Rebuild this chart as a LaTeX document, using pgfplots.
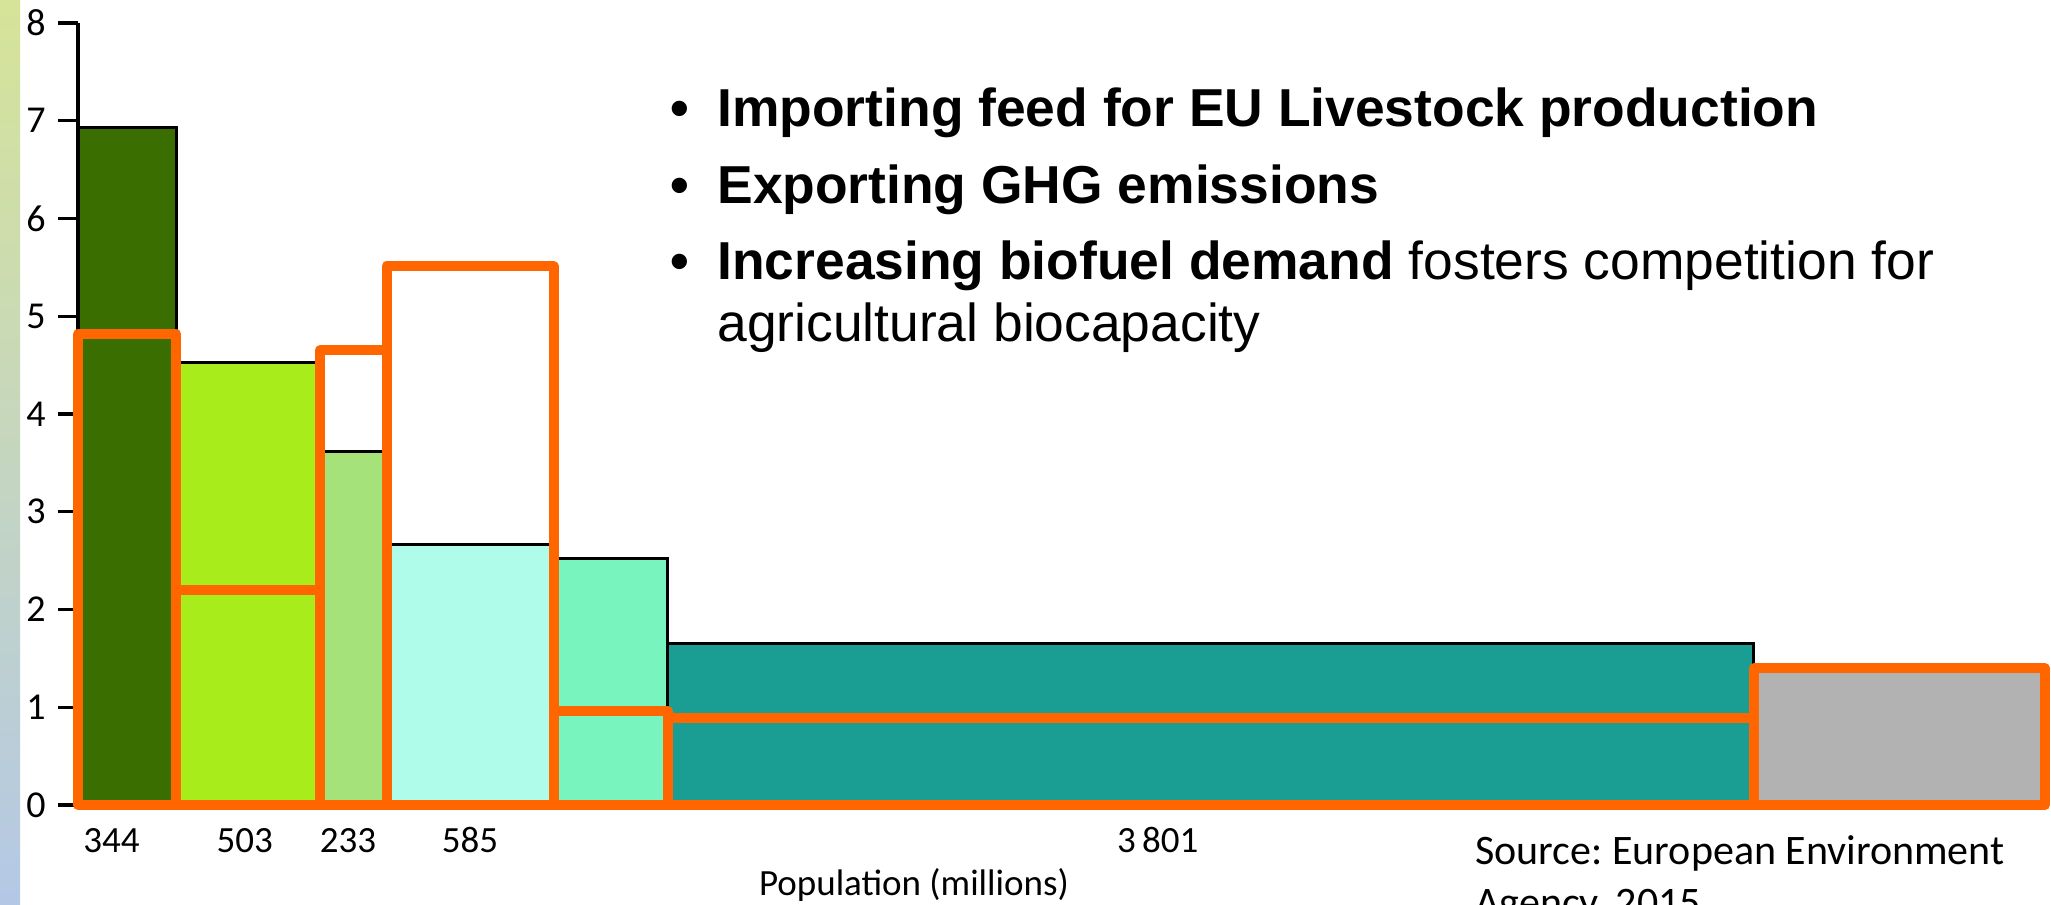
\documentclass[border=0pt]{standalone}
\usepackage{pgfplots}
\pgfplotsset{compat=1.18}
\usepackage{fontspec}
\setmainfont{Carlito}
\newfontfamily\arial{Liberation Sans}
\frenchspacing
\definecolor{cDark}{HTML}{3A6E00}
\definecolor{cLime}{HTML}{A8EC1C}
\definecolor{cLight}{HTML}{A6E27A}
\definecolor{cCyan}{HTML}{B0FCEA}
\definecolor{cMint}{HTML}{78F5BE}
\definecolor{cTeal}{HTML}{1A9E94}
\definecolor{cGray}{HTML}{B2B2B2}
\definecolor{cOrange}{HTML}{FF6600}
\definecolor{gTop}{RGB}{214,228,152}
\definecolor{gMid}{RGB}{184,216,168}
\definecolor{gBot}{RGB}{180,200,230}
\begin{document}
\begin{tikzpicture}
\shade[top color=gTop, middle color=gMid, bottom color=gBot] (0pt,0pt) rectangle (10pt,452.5pt);
\begin{axis}[
  at={(39pt,50pt)}, anchor=south west, scale only axis,
  width=983.5pt, height=391pt,
  xmin=0, xmax=6886, ymin=0, ymax=8,
  clip=false,
  axis y line*=left, axis x line*=bottom,
  x axis line style={draw=none},
  y axis line style={line width=1.8pt},
  ytick={0,1,2,3,4,5,6,7,8},
  xtick={117,584,945,1372,3780},
  xticklabels={344,503,233,585,3\,801},
  tick align=outside,
  ytick style={line width=1.6pt, black},
  major tick length=10pt,
  xtick style={draw=none},
  /pgf/number format/assume math mode=true,
  tick label style={font=\fontsize{19}{22}\selectfont},
  yticklabel style={font=\fontsize{19}{22}\selectfont, inner sep=0pt, xshift=-6pt},
  xticklabel style={font=\fontsize{18.5}{22}\selectfont, anchor=base, inner sep=0pt, yshift=-14pt},
]
% production footprint bars
\addplot[fill=cDark, draw=black, line width=1.5pt] coordinates {(0,0) (0,6.93) (344,6.93) (344,0)} -- cycle;
\addplot[fill=cLime, draw=black, line width=1.5pt] coordinates {(344,0) (344,4.53) (847,4.53) (847,0)} -- cycle;
\addplot[fill=cLight, draw=black, line width=1.5pt] coordinates {(847,0) (847,3.62) (1080,3.62) (1080,0)} -- cycle;
\addplot[fill=cCyan, draw=black, line width=1.5pt] coordinates {(1080,0) (1080,2.67) (1665,2.67) (1665,0)} -- cycle;
\addplot[fill=cMint, draw=black, line width=1.5pt] coordinates {(1665,0) (1665,2.52) (2065,2.52) (2065,0)} -- cycle;
\addplot[fill=cTeal, draw=black, line width=1.5pt] coordinates {(2065,0) (2065,1.65) (5866,1.65) (5866,0)} -- cycle;
\addplot[fill=cGray, draw=none] coordinates {(5866,0) (5866,1.40) (6886,1.40) (6886,0)} -- cycle;
% biocapacity outlines
\addplot[draw=cOrange, line width=5pt, line join=round] coordinates {(0,0) (0,4.82) (344,4.82) (344,0)} -- cycle;
\addplot[draw=cOrange, line width=5pt, line join=round] coordinates {(344,0) (344,2.20) (847,2.20) (847,0)} -- cycle;
\addplot[draw=cOrange, line width=5pt, line join=round] coordinates {(847,0) (847,4.65) (1080,4.65) (1080,0)} -- cycle;
\addplot[draw=cOrange, line width=5pt, line join=round] coordinates {(1080,0) (1080,5.51) (1665,5.51) (1665,0)} -- cycle;
\addplot[draw=cOrange, line width=5pt, line join=round] coordinates {(1665,0) (1665,0.96) (2065,0.96) (2065,0)} -- cycle;
\addplot[draw=cOrange, line width=5pt, line join=round] coordinates {(2065,0) (2065,0.89) (5866,0.89) (5866,0)} -- cycle;
\addplot[draw=cOrange, line width=5pt, line join=round] coordinates {(5866,0) (5866,1.40) (6886,1.40) (6886,0)} -- cycle;
\end{axis}
% bullet text
\begin{scope}[every node/.style={inner sep=0pt, anchor=base west, font=\arial\fontsize{26.7}{30}\selectfont}]
\node at (335pt,389pt) {\textbf{•}};
\node at (358.5pt,389pt) {\textbf{Importing feed for EU Livestock production}};
\node at (335pt,350.5pt) {\textbf{•}};
\node at (358.5pt,350.5pt) {\textbf{Exporting GHG emissions}};
\node at (335pt,312.5pt) {\textbf{•}};
\node at (358.5pt,312.5pt) {\textbf{Increasing biofuel demand} fosters competition for};
\node at (358.5pt,281.5pt) {agricultural biocapacity};
\end{scope}
\node[inner sep=0pt, anchor=base] at (457pt,5pt) {\fontsize{18.5}{22}\selectfont Population (millions)};
\node[inner sep=0pt, anchor=base west] at (737.5pt,20pt) {\fontsize{21}{25}\selectfont Source: European Environment};
\node[inner sep=0pt, anchor=base west] at (737.5pt,-5.5pt) {\fontsize{21}{25}\selectfont Agency, 2015};
\pgfresetboundingbox
\useasboundingbox (0pt,0pt) rectangle (1025.5pt,452.5pt);
\end{tikzpicture}
\end{document}
